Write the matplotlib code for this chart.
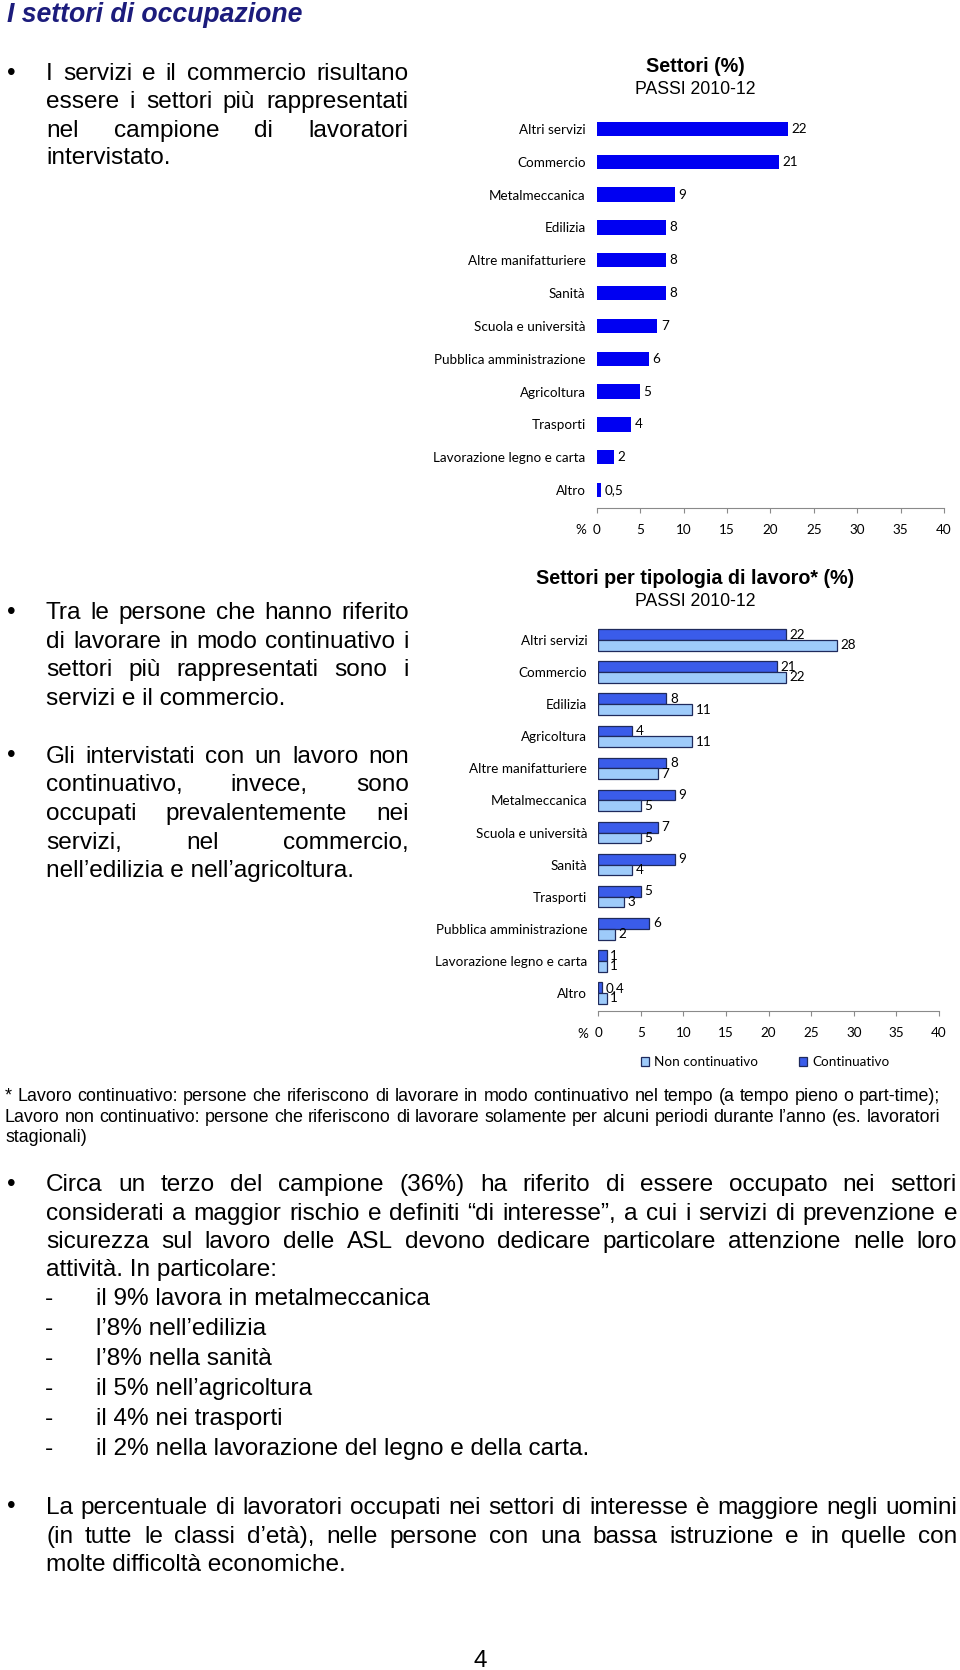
import matplotlib
matplotlib.use('Agg')
import matplotlib.pyplot as plt
from matplotlib.font_manager import FontProperties
from matplotlib.textpath import TextPath
import numpy as np

# --- chart data ---
sectors = ['Altri servizi', 'Commercio', 'Metalmeccanica', 'Edilizia',
           'Altre manifatturiere', 'Sanità', 'Scuola e università',
           'Pubblica amministrazione', 'Agricoltura', 'Trasporti',
           'Lavorazione legno e carta', 'Altro']
sector_pct = [22, 21, 9, 8, 8, 8, 7, 6, 5, 4, 2, 0.5]

type_sectors = ['Altri servizi', 'Commercio', 'Edilizia', 'Agricoltura',
                'Altre manifatturiere', 'Metalmeccanica', 'Scuola e università',
                'Sanità', 'Trasporti', 'Pubblica amministrazione',
                'Lavorazione legno e carta', 'Altro']
continuativo = [22, 21, 8, 4, 8, 9, 7, 9, 5, 6, 1, 0.4]
non_continuativo = [28, 22, 11, 11, 7, 5, 5, 4, 3, 2, 1, 1]

x_ticks = [0, 5, 10, 15, 20, 25, 30, 35, 40]
legend_labels = ['Non continuativo', 'Continuativo']

# --- page text ---
block1 = ['I servizi e il commercio risultano',
          'essere i settori più rappresentati',
          'nel campione di lavoratori',
          'intervistato.']
block2 = ['Tra le persone che hanno riferito',
          'di lavorare in modo continuativo i',
          'settori più rappresentati sono i',
          'servizi e il commercio.']
block3 = ['Gli intervistati con un lavoro non',
          'continuativo, invece, sono',
          'occupati prevalentemente nei',
          'servizi, nel commercio,',
          'nell’edilizia e nell’agricoltura.']
footnote = ['* Lavoro continuativo: persone che riferiscono di lavorare in modo continuativo nel tempo (a tempo pieno o part-time);',
            'Lavoro non continuativo: persone che riferiscono di lavorare solamente per alcuni periodi durante l’anno (es. lavoratori',
            'stagionali)']
block4 = ['Circa un terzo del campione (36%) ha riferito di essere occupato nei settori',
          'considerati a maggior rischio e definiti “di interesse”, a cui i servizi di prevenzione e',
          'sicurezza sul lavoro delle ASL devono dedicare particolare attenzione nelle loro',
          'attività. In particolare:']
dash_items = ['il 9% lavora in metalmeccanica',
              'l’8% nell’edilizia',
              'l’8% nella sanità',
              'il 5% nell’agricoltura',
              'il 4% nei trasporti',
              'il 2% nella lavorazione del legno e della carta.']
block5 = ['La percentuale di lavoratori occupati nei settori di interesse è maggiore negli uomini',
          '(in tutte le classi d’età), nelle persone con una bassa istruzione e in quelle con',
          'molte difficoltà economiche.']

W, H = 960, 1670
BODY = 'Liberation Sans'
CHART = 'Lato'
BODY_FS = 17.6
NAVY = '#1c1c7c'


def fx(x):
    return x / W


def fy(y):
    return 1 - y / H


def fit_size(s, family, target_px, weight='normal'):
    tp = TextPath((0, 0), s, size=100, prop=FontProperties(family=family, weight=weight))
    return 72 * target_px / tp.get_extents().width


CHART_FS = fit_size('Pubblica amministrazione', CHART, 149)
NOTE_FS = fit_size(footnote[0], BODY, 928)

fig = plt.figure(figsize=(W / 100, H / 100), dpi=100)
renderer = fig.canvas.get_renderer()


def text_line(x0, y, s, size=BODY_FS, x1=None, **kw):
    # y is the visual middle of the lowercase letters; draw on the baseline below it
    kw.setdefault('family', BODY)
    yb = fy(y + 0.26 * size * 100 / 72 + 2)
    if x1 is None:
        fig.text(fx(x0), yb, s, fontsize=size, va='baseline', ha='left', **kw)
        return
    words = s.split()
    objs = [fig.text(0, yb, w, fontsize=size, va='baseline', ha='left', **kw) for w in words]
    widths = [o.get_window_extent(renderer).width for o in objs]
    gap = (x1 - x0 - sum(widths)) / (len(words) - 1)
    x = x0
    for o, w in zip(objs, widths):
        o.set_x(fx(x))
        x += w + gap


def paragraph(lines, ys, x0, x1, size=BODY_FS, bullet=True):
    if bullet:
        fig.text(fx(11.5), fy(ys[0] + 2), '•', fontsize=size, family=BODY, ha='center', va='center')
    for i, (s, y) in enumerate(zip(lines, ys)):
        last = i == len(lines) - 1
        text_line(x0, y, s, size, None if last else x1)


def fmt(v):
    return f'{v:g}'.replace('.', ',')


# title
fig.text(fx(6.7), fy(15), 'I settori di occupazione', fontsize=19.2, weight='bold',
         style='italic', color=NAVY, family=BODY, va='center', ha='left')

paragraph(block1, [71.7, 100, 128.3, 155.5], 46, 408)
paragraph(block2, [610.5, 639.3, 668.1, 696.8], 46, 409)
paragraph(block3, [754.4, 783.1, 811.9, 840.7, 868.4], 46, 409)
paragraph(footnote, [1094.3, 1115.6, 1135.8], 5, 940, size=NOTE_FS, bullet=False)
paragraph(block4, [1182.7, 1211.4, 1239.2, 1267.9], 46, 957)
for s, y in zip(dash_items, [1296.7, 1326.5, 1356.4, 1386.2, 1417.1, 1446.9]):
    text_line(45, y, '-')
    text_line(96, y, s)
paragraph(block5, [1505.5, 1534.3, 1563.1], 46, 957)
fig.text(fx(480.5), fy(1661), '4', fontsize=BODY_FS, family=BODY, ha='center', va='center')


def make_axes(x0, x1, c0, c1, axis_px, n):
    sp = (c1 - c0) / (n - 1)
    top = c0 - sp / 2
    ax = fig.add_axes([fx(x0), fy(axis_px), (x1 - x0) / W, (axis_px - top) / H])
    ax.set_ylim((axis_px - c0) / sp, -0.5)
    ax.set_xlim(0, 40)
    ax.set_xticks(x_ticks)
    for side in ['left', 'top', 'right']:
        ax.spines[side].set_visible(False)
    ax.spines['bottom'].set_color('#8a8a8a')
    ax.spines['bottom'].set_linewidth(0.8)
    ax.tick_params(axis='x', direction='out', length=3.5, width=0.8, color='#8a8a8a',
                   pad=8.5, labelsize=CHART_FS)
    ax.tick_params(axis='y', length=0, pad=8, labelsize=CHART_FS)
    for lab in ax.get_xticklabels() + ax.get_yticklabels():
        lab.set_family(CHART)
    ax.patch.set_alpha(0)
    return ax


# chart 1
fig.text(fx(695), fy(67), 'Settori (%)', fontsize=14.2, weight='bold', family=BODY,
         ha='center', va='center')
fig.text(fx(695), fy(89.5), 'PASSI 2010-12', fontsize=12.7, family=BODY,
         ha='center', va='center')
y1 = np.arange(len(sectors))
ax1 = make_axes(596.7, 944, 129, 490, 507.5, len(sectors))
ax1.barh(y1, sector_pct, height=0.44, color='#0000f2')
ax1.set_yticks(y1, sectors, family=CHART, fontsize=CHART_FS)
for i, v in enumerate(sector_pct):
    ax1.annotate(fmt(v), (v, i), xytext=(2.5, 0), textcoords='offset points',
                 va='center', ha='left', fontsize=CHART_FS, family=CHART)
fig.text(fx(581), fy(530), '%', fontsize=CHART_FS, family=CHART, ha='center', va='center')

# chart 2
fig.text(fx(695), fy(579), 'Settori per tipologia di lavoro* (%)', fontsize=14.2,
         weight='bold', family=BODY, ha='center', va='center')
fig.text(fx(695), fy(601), 'PASSI 2010-12', fontsize=12.7, family=BODY,
         ha='center', va='center')
y2 = np.arange(len(type_sectors))
h = 0.333
ax2 = make_axes(598.3, 939, 640, 993, 1010.7, len(type_sectors))
dark = ax2.barh(y2 - h / 2, continuativo, height=h, color='#3a5cea',
                edgecolor='#1f2a5c', linewidth=0.9)
light = ax2.barh(y2 + h / 2, non_continuativo, height=h, color='#9ecbfa',
                 edgecolor='#1f2a5c', linewidth=0.9)
ax2.set_yticks(y2, type_sectors, family=CHART, fontsize=CHART_FS)
for i, (a, b) in enumerate(zip(continuativo, non_continuativo)):
    ax2.annotate(fmt(a), (a, i - h / 2), xytext=(2.5, 0), textcoords='offset points',
                 va='center', ha='left', fontsize=CHART_FS, family=CHART)
    ax2.annotate(fmt(b), (b, i + h / 2), xytext=(2.5, 0), textcoords='offset points',
                 va='center', ha='left', fontsize=CHART_FS, family=CHART)
fig.text(fx(582.8), fy(1033.5), '%', fontsize=CHART_FS, family=CHART, ha='center', va='center')

fig.legend([light, dark], legend_labels, loc='center', bbox_to_anchor=(fx(765), fy(1062)),
           ncol=2, frameon=False, handlelength=0.6, handleheight=0.6, handletextpad=0.4,
           columnspacing=3.0, prop=FontProperties(family=CHART, size=CHART_FS))

fig.savefig('out.png', dpi=100)
